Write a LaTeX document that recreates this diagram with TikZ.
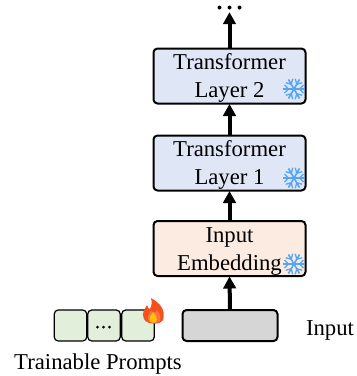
\documentclass[tikz,border=0pt]{standalone}
\usepackage{fontspec}
\setmainfont{Liberation Serif}
\usetikzlibrary{arrows.meta}
\definecolor{layerblue}{HTML}{DFE6F5}
\definecolor{embedorange}{HTML}{FBEBE0}
\definecolor{promptgreen}{HTML}{E2EFDA}
\definecolor{inputgray}{HTML}{D6D6D6}
\definecolor{iceblue}{HTML}{55A5F5}
\definecolor{flameorange}{HTML}{F4511E}
\definecolor{flamered}{HTML}{FF7043}
\definecolor{flameyellow}{HTML}{FFC107}
\newcommand\topgap{\rule{0pt}{20pt}}
\tikzset{
  bigbox/.style={draw=black,line width=2pt,rounded corners=4pt,minimum width=152pt,minimum height=55pt,align=center,inner sep=0pt,font=\fontsize{22.7}{28}\selectfont},
  promptbox/.style={draw=black,line width=1.2pt,rounded corners=4pt,fill=promptgreen,minimum width=32.5pt,minimum height=31pt,inner sep=0pt},
  plainlabel/.style={inner sep=0pt,font=\fontsize{22.7}{27}\selectfont},
  flow/.style={line width=4pt,-{Triangle[length=12pt,width=12.5pt]},shorten >=-0.5pt},
  pics/flake/.style={code={
    \foreach \a in {0,60,120}{
      \draw[iceblue,line width=1.6pt,rotate=\a] (-11,0)--(11,0);
    }
    \foreach \a in {0,60,...,300}{
      \draw[iceblue,line width=1.3pt,rotate=\a] (9.5,-4)--(5.5,0)--(9.5,4);
    }
  }}
}
\begin{document}
\begin{tikzpicture}[x=1pt,y=-1pt]
\useasboundingbox (0,0) rectangle (357,376);
\node[bigbox,fill=layerblue] (t2) at (229.5,76) {\topgap Transformer\\Layer 2};
\node[bigbox,fill=layerblue] (t1) at (229.5,163) {\topgap Transformer\\Layer 1};
\node[bigbox,fill=embedorange] (emb) at (229.5,248.5) {\topgap Input\\Embedding};
\node[draw=black,line width=2pt,rounded corners=4pt,fill=inputgray,minimum width=95pt,minimum height=31pt,inner sep=0pt] (inp) at (230,325.5) {};
\node[promptbox] (p1) at (70.5,325.5) {};
\node[promptbox] (p2) at (104,325.5) {};
\node[promptbox] (p3) at (138,325.5) {};
\fill (97.5,327) circle (1.5) (103.5,327) circle (1.5) (109.5,327) circle (1.5);
\node[inner sep=0pt,minimum width=24pt,minimum height=10pt] (dots) at (229.5,7.5) {};
\fill (dots.center)++(-10,0) circle (2) (dots.center) circle (2) (dots.center)++(10,0) circle (2);
\node[plainlabel,anchor=base] (tp) at (98,369) {Trainable Prompts};
\node[plainlabel,anchor=base] (il) at (330,335) {Input};
\draw[flow] (t2.north) -- (dots.south);
\draw[flow] (t1.north) -- (t2.south);
\draw[flow] (emb.north) -- (t1.south);
\draw[flow] (inp.north) -- (emb.south);
\pic at (294,89) {flake};
\pic at (294,178) {flake};
\pic at (294,264) {flake};
\fill[flameorange] (151,298) .. controls (160,303) and (166,310) .. (163,320) .. controls (160,325) and (147,325) .. (144,319) .. controls (141,313) and (145,309) .. (147,305) .. controls (148,308) and (149,309) .. (150,309) .. controls (152,305) and (152,302) .. (151,298) -- cycle;
\fill[flamered] (157,310) .. controls (160,313) and (161,318) .. (160,321) .. controls (157,324) and (150,324) .. (148,320) .. controls (147,317) and (149,313) .. (151,311) .. controls (153,313) and (156,313) .. (157,310) -- cycle;
\fill[flameyellow] (153,312) .. controls (156,315) and (158,319) .. (156,321.5) .. controls (154,323.5) and (150,323) .. (149.5,320) .. controls (149,317) and (151,315) .. (153,312) -- cycle;
\end{tikzpicture}
\end{document}
